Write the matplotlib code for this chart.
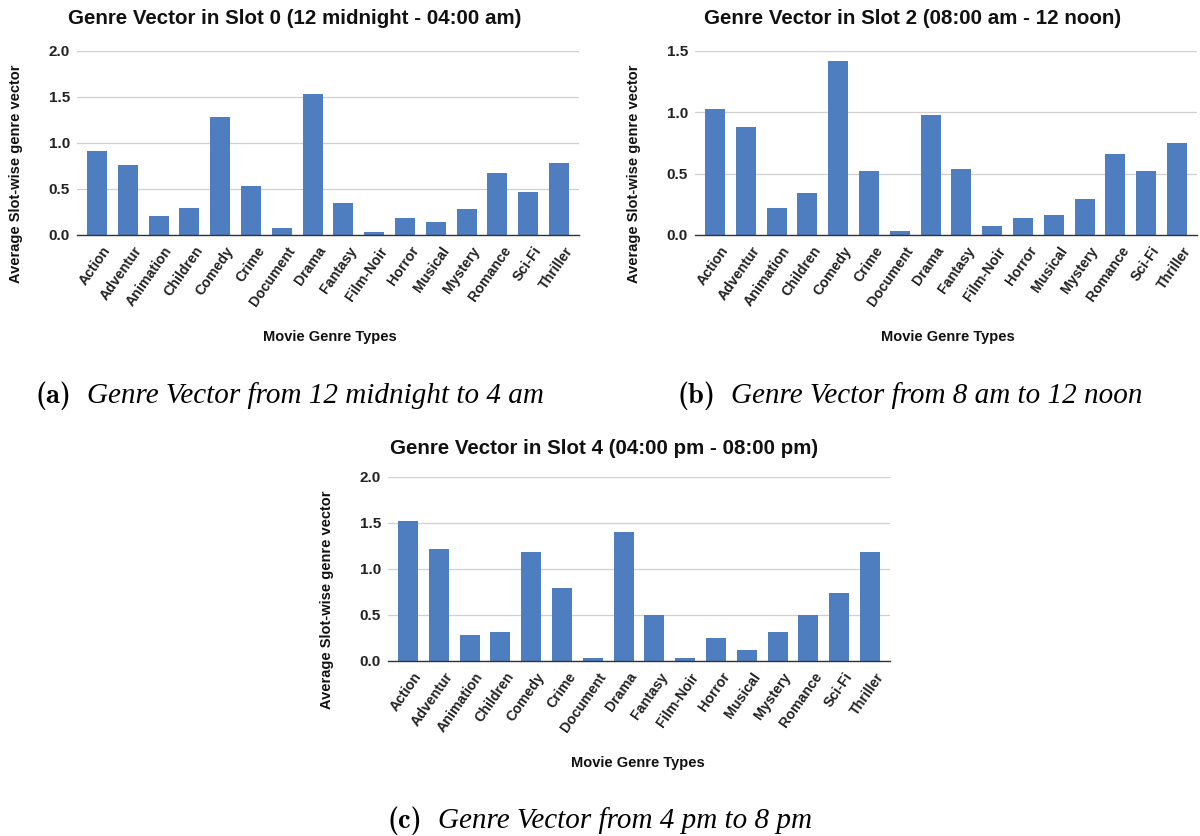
import matplotlib
matplotlib.use("Agg")
import matplotlib.pyplot as plt
from matplotlib.transforms import ScaledTranslation

# 电影类型
genres = ["Action", "Adventur", "Animation", "Children", "Comedy", "Crime",
          "Document", "Drama", "Fantasy", "Film-Noir", "Horror", "Musical",
          "Mystery", "Romance", "Sci-Fi", "Thriller"]

# 各时段的平均类型向量
slot0 = [0.91, 0.76, 0.21, 0.29, 1.28, 0.53, 0.08, 1.53, 0.35, 0.03,
         0.19, 0.14, 0.28, 0.67, 0.47, 0.78]
slot2 = [1.03, 0.88, 0.22, 0.34, 1.42, 0.52, 0.03, 0.98, 0.54, 0.07,
         0.14, 0.16, 0.29, 0.66, 0.52, 0.75]
slot4 = [1.52, 1.22, 0.28, 0.31, 1.19, 0.79, 0.03, 1.40, 0.50, 0.03,
         0.25, 0.12, 0.32, 0.50, 0.74, 1.19]

titles = ["Genre Vector in Slot 0 (12 midnight - 04:00 am)",
          "Genre Vector in Slot 2 (08:00 am - 12 noon)",
          "Genre Vector in Slot 4 (04:00 pm - 08:00 pm)"]
captions = ["Genre Vector from 12 midnight to 4 am",
            "Genre Vector from 8 am to 12 noon",
            "Genre Vector from 4 pm to 8 pm"]
tags = ["(a)", "(b)", "(c)"]
yticks = [[0, 0.5, 1.0, 1.5, 2.0], [0, 0.5, 1.0, 1.5], [0, 0.5, 1.0, 1.5, 2.0]]

BAR = "#4f7ec0"
W, H = 1200, 836

fig = plt.figure(figsize=(12, 8.36), dpi=100)
plt.rcParams["font.family"] = ["Liberation Sans", "DejaVu Sans"]


def px(x, y):
    return x / W, 1 - y / H


# 每个子图的像素布局: 坐标轴(左, 上, 右, 下)、标题、y轴标签、x轴标签、图注
layout = [
    dict(ax=(77, 51, 579, 235), title=(295, 18), ylab=(16, 174), xlab=(330, 337),
         tag=(36, 396), cap=(87, 396)),
    dict(ax=(695, 51, 1197, 235), title=(913, 18), ylab=(634, 174), xlab=(948, 337),
         tag=(678, 396), cap=(731, 396)),
    dict(ax=(388, 477, 890, 661), title=(604, 448), ylab=(327, 600), xlab=(638, 763),
         tag=(388, 821), cap=(438, 821)),
]

# 类型标签相对柱子中心的偏移(像素)
shift = ScaledTranslation(5 / 100, -9 / 100, fig.dpi_scale_trans)

for i, (vals, lay) in enumerate(zip([slot0, slot2, slot4], layout)):
    l, t, r, b = lay["ax"]
    ax = fig.add_axes([l / W, 1 - b / H, (r - l) / W, (b - t) / H])
    x = list(range(len(genres)))
    ax.bar(x, vals, width=0.65, color=BAR, zorder=3)
    ax.set_xlim(-0.65, len(genres) - 1 + 0.65)
    ax.set_ylim(0, yticks[i][-1])
    ax.set_yticks(yticks[i])
    ax.set_yticklabels([f"{v:.1f}" for v in yticks[i]], fontsize=11, fontweight="bold",
                       color="#222222")
    ax.set_xticks(x)
    ax.set_xticklabels([])
    # 类型名称斜着写在柱子下方
    for xi, g in zip(x, genres):
        ax.text(xi, 0, g, transform=ax.get_xaxis_transform() + shift,
                rotation=55, ha="right", va="top", rotation_mode="anchor",
                fontsize=10.2, fontweight="bold", color="#222222")
    ax.tick_params(axis="both", length=0)
    ax.tick_params(axis="y", pad=5)
    ax.grid(axis="y", color="#d0d0d0", linewidth=0.9, zorder=0)
    for s in ["top", "right", "left"]:
        ax.spines[s].set_visible(False)
    ax.spines["bottom"].set_color("#333333")
    ax.spines["bottom"].set_linewidth(1.0)
    ax.spines["bottom"].set_zorder(4)

    fig.text(*px(*lay["title"]), titles[i], ha="center", va="center",
             fontsize=14.8, fontweight="bold", color="#111111")
    fig.text(*px(*lay["ylab"]), "Average Slot-wise genre vector", rotation=90,
             ha="center", va="center", fontsize=10.5, fontweight="bold", color="#111111")
    fig.text(*px(*lay["xlab"]), "Movie Genre Types", ha="center", va="center",
             fontsize=10.5, fontweight="bold", color="#111111")
    fig.text(*px(*lay["tag"]), tags[i], ha="left", va="center",
             fontsize=20.5, family="cmb10", color="black")
    fig.text(*px(*lay["cap"]), captions[i], ha="left", va="center",
             fontsize=21, family="Liberation Serif", style="italic", color="black")

fig.savefig("out.png", dpi=100, facecolor="white")
